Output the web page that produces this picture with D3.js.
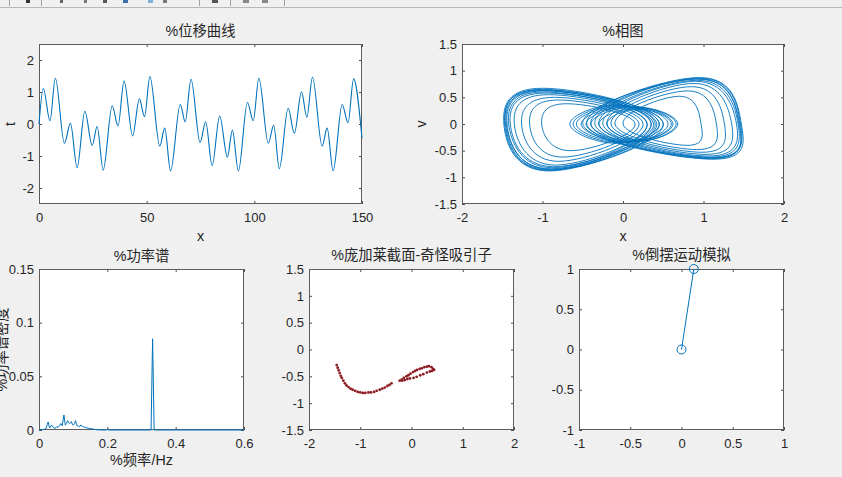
<!DOCTYPE html>
<meta charset="utf-8">
<script src="https://d3js.org/d3.v7.min.js"></script>
<style>
  body { margin: 0; background: #f0f0f0; }
  text { font-family: "Liberation Sans", "Noto Sans CJK SC", sans-serif; fill: #262626; }
</style>
<div id="fig"></div>
<script>

// ---- data ----

// displacement curve: turning points (time, displacement)
var dispT = [0, 2, 5.1, 7.6, 11.8, 14.6, 17.7, 21.3, 24.7, 27, 29.8, 34, 36.7, 39.5, 43.5, 46.6, 49, 51.5, 56.1, 58.4,
             61.1, 65.6, 67.9, 70.6, 74.8, 77.4, 80.4, 83.9, 87.5, 89.8, 92.6, 96.8, 99.5, 102.1, 106.5, 109, 111.6,
             115.7, 118.6, 121.9, 124.4, 127, 131.5, 133.8, 136.6, 140.8, 143.5, 146.1, 150];
var dispX = [0, 1.11, 0.1, 1.43, -0.6, 0.02, -1.36, 0.4, -0.67, -0.08, -1.44, 0.57, -0.06, 1.34, -0.37, 0.79, 0.23, 1.48, -0.69, -0.13,
             -1.47, 0.61, 0.07, 1.4, -0.58, 0.07, -1.3, 0.25, -1.04, -0.19, -1.47, 0.67, 0.1, 1.43, -0.6, -0.04, -1.4,
             0.49, -0.29, 1.01, 0.21, 1.46, -0.69, -0.13, -1.46, 0.61, 0.04, 1.41, -0.45];

// phase portrait loops: [x left, x at top, v top, x right, x at bottom, v bottom]
var leftLoops = [
  [-1.48, -1.00, 0.67, 0.45, -0.92, -0.88],
  [-1.47, -1.00, 0.65, 0.40, -0.92, -0.87],
  [-1.46, -1.00, 0.64, 0.50, -0.90, -0.86],
  [-1.45, -1.00, 0.63, 0.35, -0.90, -0.85],
  [-1.44, -0.98, 0.62, 0.42, -0.90, -0.84],
  [-1.42, -0.98, 0.60, 0.30, -0.88, -0.82],
  [-1.40, -0.95, 0.58, 0.38, -0.86, -0.80],
  [-1.35, -0.92, 0.55, 0.30, -0.84, -0.77],
  [-1.26, -0.85, 0.50, 0.25, -0.80, -0.70],
  [-1.16, -0.80, 0.45, 0.20, -0.75, -0.62],
  [-1.01, -0.70, 0.38, 0.15, -0.65, -0.50]
];
var rightLoops = [
  [-0.45, 0.95, 0.87, 1.47, 1.12, -0.66],
  [-0.40, 0.95, 0.86, 1.46, 1.10, -0.65],
  [-0.35, 0.93, 0.85, 1.45, 1.10, -0.64],
  [-0.50, 0.93, 0.84, 1.44, 1.10, -0.63],
  [-0.30, 0.92, 0.82, 1.43, 1.08, -0.62],
  [-0.25, 0.90, 0.80, 1.41, 1.06, -0.60],
  [-0.20, 0.88, 0.76, 1.35, 1.03, -0.57],
  [-0.15, 0.85, 0.70, 1.26, 0.98, -0.53],
  [-0.10, 0.80, 0.62, 1.16, 0.92, -0.48],
  [0.00, 0.70, 0.52, 0.97, 0.80, -0.40]
];
var centreLoops = [
  [-0.66, -0.10, 0.36, 0.35, -0.10, -0.36],
  [-0.62, -0.05, 0.35, 0.45, -0.05, -0.35],
  [-0.58, 0.00, 0.34, 0.50, 0.00, -0.34],
  [-0.52, 0.05, 0.33, 0.56, 0.05, -0.34],
  [-0.46, 0.10, 0.33, 0.62, 0.10, -0.33],
  [-0.40, 0.15, 0.32, 0.68, 0.15, -0.33],
  [-0.30, 0.20, 0.30, 0.66, 0.20, -0.32],
  [-0.20, 0.20, 0.28, 0.60, 0.20, -0.30]
];

// power spectrum
var specF = [0, 0.01, 0.02, 0.024, 0.027, 0.03, 0.032, 0.036, 0.039, 0.043, 0.047, 0.052, 0.056, 0.06, 0.064, 0.068,
             0.073, 0.077, 0.08, 0.084, 0.087, 0.09, 0.095, 0.098, 0.1, 0.104, 0.107, 0.111, 0.115, 0.119, 0.122,
             0.126, 0.13, 0.135, 0.14, 0.147, 0.155, 0.163, 0.17, 0.195, 0.2, 0.205, 0.328, 0.3325, 0.337, 0.6];
var specP = [0, 0.0004, 0.001, 0.005, 0.0075, 0.003, 0.002, 0.0045, 0.004, 0.002, 0.0015, 0.003, 0.0025, 0.004, 0.006, 0.004,
             0.014, 0.0045, 0.006, 0.0087, 0.007, 0.006, 0.0078, 0.005, 0.0045, 0.006, 0.0087, 0.004, 0.0037, 0.003, 0.0047,
             0.0035, 0.003, 0.0025, 0.002, 0.0015, 0.001, 0.0006, 0.0002, 0, 0.0005, 0, 0, 0.085, 0, 0];

// Poincare section points
var poinX = [-1.46, -1.44, -1.42, -1.40, -1.38, -1.36, -1.33, -1.30, -1.27, -1.23, -1.19, -1.15, -1.10, -1.05, -1.00, -0.95,
             -0.90, -0.84, -0.79, -0.73, -0.68, -0.62, -0.57, -0.52, -0.47, -0.43, -0.39,
             -0.23, -0.19, -0.15, -0.10, -0.06, -0.02, 0.03, 0.07, 0.11, 0.16, 0.20, 0.25, 0.30, 0.34, 0.39, 0.42, 0.44,
             0.40, 0.36, 0.30, 0.23, 0.17, 0.10, 0.04, -0.03, -0.08, -0.13, -0.18];
var poinV = [-0.29, -0.34, -0.39, -0.44, -0.49, -0.53, -0.58, -0.63, -0.67, -0.70, -0.73, -0.75, -0.77, -0.79, -0.80, -0.81,
             -0.81, -0.80, -0.80, -0.79, -0.77, -0.75, -0.73, -0.71, -0.68, -0.66, -0.63,
             -0.58, -0.56, -0.53, -0.50, -0.48, -0.45, -0.42, -0.40, -0.38, -0.36, -0.35, -0.33, -0.32, -0.31, -0.33, -0.36, -0.38,
             -0.40, -0.41, -0.43, -0.46, -0.48, -0.51, -0.53, -0.54, -0.55, -0.57, -0.58];

// pendulum: pivot and bob
var pendX = [0, 0.12];
var pendY = [0, 1];

var blue = "#0072bd", darkRed = "#8e1b22";

// ---- figure ----
var W = 842, H = 477;
var svg = d3.select("#fig").append("svg")
    .attr("width", W).attr("height", H)
    .style("display", "block");

svg.append("rect").attr("width", W).attr("height", H).attr("fill", "#f0f0f0");

// bits of the toolbar peeking in at the top
svg.append("line").attr("x1", 0).attr("x2", W).attr("y1", 7.5).attr("y2", 7.5)
  .attr("stroke", "#b8b8b8");
[9, 41, 199, 230, 284].forEach(function(sx) {
  svg.append("line").attr("x1", sx + 0.5).attr("x2", sx + 0.5).attr("y1", 0).attr("y2", 6)
    .attr("stroke", "#a0a0a0");
});
[[26, 4, "#333"], [60, 3, "#666"], [84, 3, "#777"], [103, 4, "#555"], [123, 5, "#3c6ea8"],
 [148, 5, "#7fb0d8"], [163, 4, "#777"], [212, 6, "#555"], [243, 6, "#888"], [262, 6, "#888"]].forEach(function(b) {
  svg.append("rect").attr("x", b[0]).attr("y", 0).attr("width", b[1]).attr("height", 3).attr("fill", b[2]);
});

var fmt = function(d) { return String(d); };

function addAxes(o) {
  var x = d3.scaleLinear().domain(o.xd).range([o.l, o.r]);
  var y = d3.scaleLinear().domain(o.yd).range([o.b, o.t]);
  var g = svg.append("g");

  g.append("rect")
    .attr("x", o.l).attr("y", o.t)
    .attr("width", o.r - o.l).attr("height", o.b - o.t)
    .attr("fill", "#fff");

  var axes = [
    [d3.axisBottom(x).tickValues(o.xt).tickFormat(fmt).tickPadding(9), "translate(0," + o.b + ")"],
    [d3.axisTop(x).tickValues(o.xt).tickFormat(""), "translate(0," + o.t + ")"],
    [d3.axisLeft(y).tickValues(o.yt).tickFormat(fmt).tickPadding(5), "translate(" + o.l + ",0)"],
    [d3.axisRight(y).tickValues(o.yt).tickFormat(""), "translate(" + o.r + ",0)"]
  ];
  axes.forEach(function(a) {
    var ax = g.append("g").attr("transform", a[1])
      .call(a[0].tickSizeInner(-3).tickSizeOuter(0));
    ax.select(".domain").remove();
    ax.selectAll("line").attr("stroke", "#4d4d4d");
    ax.selectAll("text").attr("font-size", 13).attr("fill", "#262626");
    ax.attr("font-family", null);
  });

  g.append("rect")
    .attr("x", o.l + 0.5).attr("y", o.t + 0.5)
    .attr("width", o.r - o.l - 1).attr("height", o.b - o.t - 1)
    .attr("fill", "none").attr("stroke", "#5c5c5c");

  svg.append("text")
    .attr("x", (o.l + o.r) / 2).attr("y", o.titleY)
    .attr("text-anchor", "middle").attr("font-size", 14.3)
    .text(o.title);

  if (o.xl) {
    svg.append("text")
      .attr("x", (o.l + o.r) / 2).attr("y", o.xlY)
      .attr("text-anchor", "middle").attr("font-size", 14.3)
      .text(o.xl);
  }
  if (o.yl) {
    svg.append("text")
      .attr("transform", "translate(" + o.ylX + "," + (o.t + o.b) / 2 + ") rotate(-90)")
      .attr("text-anchor", "middle").attr("font-size", 14.3)
      .text(o.yl);
  }
  return { g: g, x: x, y: y };
}

// 1. displacement curve
var a1 = addAxes({ l: 39, r: 362, t: 44, b: 204, xd: [0, 150], yd: [-2.5, 2.5],
  xt: [0, 50, 100, 150], yt: [-2, -1, 0, 1, 2],
  title: "%位移曲线", titleY: 36, xl: "x", xlY: 241, yl: "t", ylX: 15 });

a1.g.append("path")
  .datum(dispT.map(function(t, i) { return [t, dispX[i]]; }))
  .attr("fill", "none").attr("stroke", blue).attr("stroke-width", 1.1)
  .attr("d", d3.line()
    .x(function(d) { return a1.x(d[0]); })
    .y(function(d) { return a1.y(d[1]); })
    .curve(d3.curveMonotoneX));

// 2. phase portrait
var a2 = addAxes({ l: 462, r: 784, t: 44, b: 204, xd: [-2, 2], yd: [-1.5, 1.5],
  xt: [-2, -1, 0, 1, 2], yt: [-1.5, -1, -0.5, 0, 0.5, 1, 1.5],
  title: "%相图", titleY: 36, xl: "x", xlY: 241, yl: "v", ylX: 426 });

var loopLine = d3.line()
  .x(function(d) { return a2.x(d[0]); })
  .y(function(d) { return a2.y(d[1]); })
  .curve(d3.curveCardinalClosed.tension(-0.35));

a2.g.selectAll(".loop")
  .data(leftLoops.concat(rightLoops, centreLoops))
  .enter().append("path")
    .attr("class", "loop")
    .attr("fill", "none").attr("stroke", blue).attr("stroke-width", 0.9)
    .attr("d", function(p) {
      return loopLine([[p[0], 0], [p[1], p[2]], [p[3], 0], [p[4], p[5]]]);
    });

// 3. power spectrum
var a3 = addAxes({ l: 39, r: 244, t: 269, b: 430, xd: [0, 0.6], yd: [0, 0.15],
  xt: [0, 0.2, 0.4, 0.6], yt: [0, 0.05, 0.1, 0.15],
  title: "%功率谱", titleY: 260.5, xl: "%频率/Hz", xlY: 465, yl: "%功率谱密度", ylX: 7 });

a3.g.append("path")
  .datum(specF.map(function(f, i) { return [f, specP[i]]; }))
  .attr("fill", "none").attr("stroke", blue).attr("stroke-width", 1)
  .attr("d", d3.line()
    .x(function(d) { return a3.x(d[0]); })
    .y(function(d) { return a3.y(d[1]); }));

// 4. Poincare section
var a4 = addAxes({ l: 309, r: 514, t: 269, b: 430, xd: [-2, 2], yd: [-1.5, 1.5],
  xt: [-2, -1, 0, 1, 2], yt: [-1.5, -1, -0.5, 0, 0.5, 1, 1.5],
  title: "%庞加莱截面-奇怪吸引子", titleY: 260 });

a4.g.selectAll(".pt")
  .data(poinX.map(function(px, i) { return [px, poinV[i]]; }))
  .enter().append("circle")
    .attr("class", "pt")
    .attr("cx", function(d) { return a4.x(d[0]); })
    .attr("cy", function(d) { return a4.y(d[1]); })
    .attr("r", 1.4)
    .attr("fill", darkRed);

// 5. pendulum
var a5 = addAxes({ l: 579, r: 784, t: 269, b: 430, xd: [-1, 1], yd: [-1, 1],
  xt: [-1, -0.5, 0, 0.5, 1], yt: [-1, -0.5, 0, 0.5, 1],
  title: "%倒摆运动模拟", titleY: 260 });

var pend = pendX.map(function(px, i) { return [px, pendY[i]]; });
a5.g.append("path")
  .datum(pend)
  .attr("fill", "none").attr("stroke", blue).attr("stroke-width", 1)
  .attr("d", d3.line()
    .x(function(d) { return a5.x(d[0]); })
    .y(function(d) { return a5.y(d[1]); }));
a5.g.selectAll(".mk")
  .data(pend)
  .enter().append("circle")
    .attr("class", "mk")
    .attr("cx", function(d) { return a5.x(d[0]); })
    .attr("cy", function(d) { return a5.y(d[1]); })
    .attr("r", 4.5)
    .attr("fill", "none").attr("stroke", blue).attr("stroke-width", 1);

</script>
